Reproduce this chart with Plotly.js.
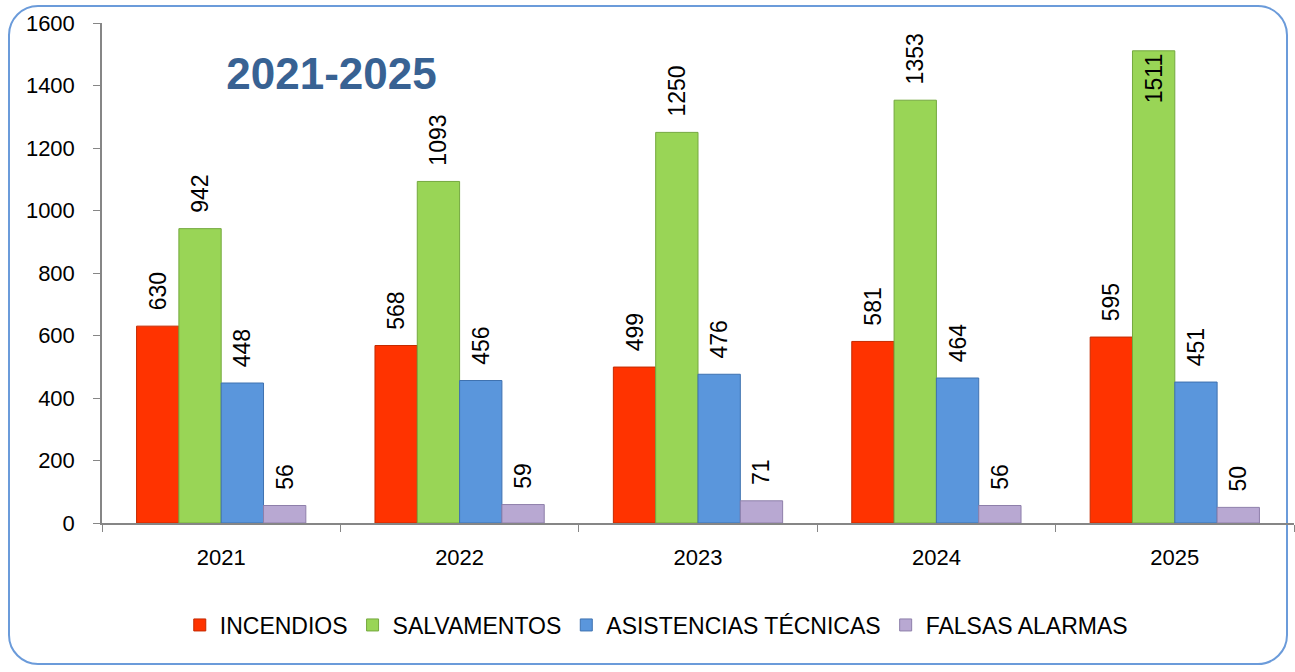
<!DOCTYPE html>
<html>
<head>
<meta charset="utf-8">
<script src="https://cdn.plot.ly/plotly-3.0.1.min.js"></script>
<style>
  html, body { margin: 0; padding: 0; background: #fff; }
  #frame {
    position: absolute; left: 8px; top: 5px; width: 1280px; height: 660px;
    border: 2px solid #6B9BDA; border-radius: 30px; box-sizing: border-box;
  }
  #plot { position: absolute; left: 0; top: 0; width: 1295px; height: 672px; }
</style>
</head>
<body>
<div id="frame"></div>
<div id="plot"></div>
<script>
const years = ['2021', '2022', '2023', '2024', '2025'];
const incendios = [630, 568, 499, 581, 595];
const salvamentos = [942, 1093, 1250, 1353, 1511];
const asistencias = [448, 456, 476, 464, 451];
const falsasAlarmas = [56, 59, 71, 56, 50];

const seriesNames = ['INCENDIOS', 'SALVAMENTOS', 'ASISTENCIAS TÉCNICAS', 'FALSAS ALARMAS'];
const seriesColors = ['#FF3300', '#99D556', '#5A96DC', '#B8A8D2'];
const edgeColors = ['#C42A00', '#74A83E', '#3F72B0', '#8E7FAA'];

const FONT = 'Liberation Sans, Arial, sans-serif';
const Y_MAX = 1600;

function makeTrace(values, i) {
    // labels that would run off the top of the chart go inside the bar top instead
    const pos = values.map(v => (v > Y_MAX - 200 ? 'inside' : 'outside'));
    const tmpl = values.map(v => (v > Y_MAX - 200 ? '%{text}' : '\u00a0\u00a0%{text}'));
    return {
        x: years,
        y: values,
        type: 'bar',
        name: seriesNames[i],
        marker: { color: seriesColors[i], line: { color: edgeColors[i], width: 1 } },
        text: values.map(String),
        texttemplate: tmpl,
        textposition: pos,
        insidetextanchor: 'end',
        textangle: -90,
        constraintext: 'none',
        textfont: { family: FONT, size: 23, color: '#000' },
        insidetextfont: { family: FONT, size: 23, color: '#000' },
        outsidetextfont: { family: FONT, size: 23, color: '#000' },
        cliponaxis: false,
        hoverinfo: 'x+y+name'
    };
}

const data = [incendios, salvamentos, asistencias, falsasAlarmas].map(makeTrace);

const layout = {
    width: 1295,
    height: 672,
    margin: { l: 102, r: 1, t: 23, b: 149 },
    paper_bgcolor: 'rgba(0,0,0,0)',
    plot_bgcolor: 'rgba(0,0,0,0)',
    barmode: 'group',
    bargap: 0.29,
    bargroupgap: 0,
    showlegend: true,
    font: { family: FONT, size: 22, color: '#000' },
    title: {
        text: '<b>2021-2025</b>',
        font: { family: FONT, size: 44, color: '#386293' },
        xref: 'container', yref: 'container',
        x: 0.256, y: 0.89, xanchor: 'center', yanchor: 'middle'
    },
    xaxis: {
        type: 'category',
        showline: true, linecolor: '#868686', linewidth: 1.5,
        ticks: 'outside', tickson: 'boundaries', ticklen: 7, tickcolor: '#868686',
        tickfont: { family: FONT, size: 22 },
        ticklabelstandoff: 14,
        showgrid: false, zeroline: false
    },
    yaxis: {
        range: [0, Y_MAX], dtick: 200, tick0: 0,
        showline: true, linecolor: '#868686', linewidth: 1.5,
        ticks: 'outside', ticklen: 7, tickcolor: '#868686',
        tickfont: { family: FONT, size: 22 },
        ticklabelstandoff: 14,
        showgrid: false, zeroline: false
    },
    legend: {
        orientation: 'h',
        x: 0.465, xanchor: 'center',
        y: -0.204, yanchor: 'middle',
        font: { family: FONT, size: 23, color: '#000' },
        bgcolor: 'rgba(0,0,0,0)'
    }
};

Plotly.newPlot('plot', data, layout, { displayModeBar: false });
</script>
</body>
</html>
